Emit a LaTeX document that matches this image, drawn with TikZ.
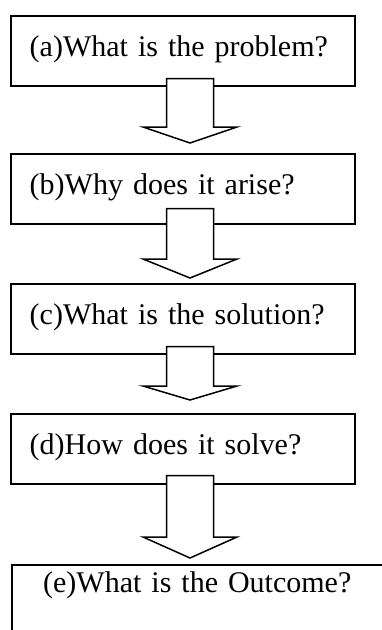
\documentclass[tikz,border=0pt]{standalone}
\usepackage{fontspec}
\setmainfont{Liberation Serif}
\usetikzlibrary{calc,positioning}

\tikzset{
  qbox/.style={draw, line width=1.5pt, rectangle, anchor=north west, inner ysep=0pt,
    inner xsep=19pt, text width=306pt, align=left, text height=41pt, text depth=29pt,
    font=\fontsize{30}{35}\selectfont},
  blockarrow/.style={draw, fill=white, line width=1.5pt, line join=miter}
}

\begin{document}
\begin{tikzpicture}[x=1pt, y=1pt]
  \clip (0,0) rectangle (382,-630);
  \coordinate (ax) at (190,0);
  \node[qbox] (a) at (10,-15) {(a)What is the problem?};
  \node[qbox] (b) at (10,-153) {(b)Why does it arise?};
  \node[qbox] (c) at (10,-283) {(c)What is the solution?};
  \node[qbox] (d) at (10,-413) {(d)How does it solve?};
  \node[qbox, inner xsep=0pt, text width=371pt, align=center, text height=28pt, text depth=60pt] (e) at (11,-564) {(e)What is the Outcome?};
  % block arrows: shaft top above box, tip gap, head length
  \foreach \p/\q/\t/\g/\hd in {a/b/8/10/16,b/c/16/5/19,c/d/8/13/14,d/e/9/6/21}{
    \draw[blockarrow] ($(ax |- \p.south)+(-23.5,\t)$)
      -- ($(ax |- \q.north)+(-23.5,\g+\hd)$) -- ++(-23.5,0)
      -- ($(ax |- \q.north)+(0,\g)$)
      -- ($(ax |- \q.north)+(47,\g+\hd)$) -- ++(-23.5,0)
      -- ($(ax |- \p.south)+(23.5,\t)$) -- cycle;
  }
\end{tikzpicture}
\end{document}
